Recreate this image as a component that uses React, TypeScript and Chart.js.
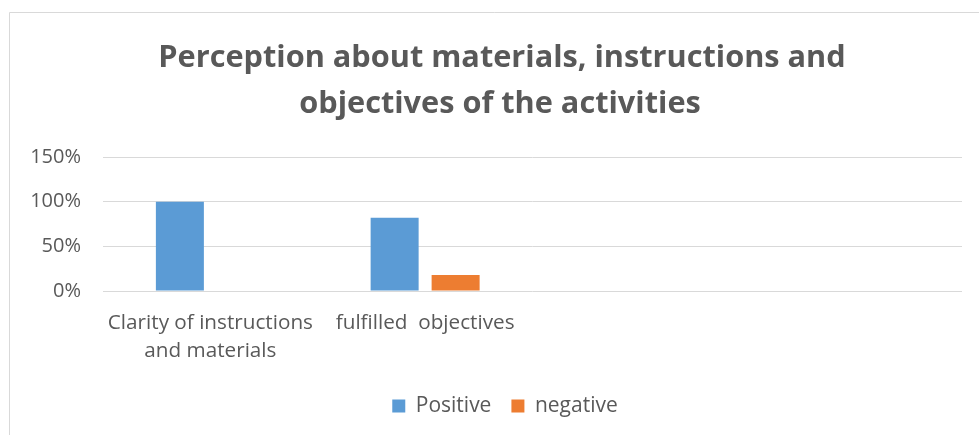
import React, { useEffect, useRef } from "react";
import { Chart, registerables } from "chart.js";

Chart.register(...registerables);

const categories: (string | string[])[] = [
  ["Clarity of instructions", "and materials"],
  "fulfilled  objectives",
  "",
  "",
];
const positiveValues: (number | null)[] = [1.0, 0.82, null, null];
const negativeValues: (number | null)[] = [0, 0.18, null, null];
const seriesNames = ["Positive", "negative"];
const yMin = 0;
const yMax = 1.5;
const yStep = 0.5;
const titleLines = [
  "Perception about materials, instructions and",
  "objectives of the activities",
];

const TEXT = "#595959";
const GRID = "#d9d9d9";
const BLUE = "#5b9bd5";
const ORANGE = "#ed7d31";
const FONT = "'Open Sans', sans-serif";

const framePlugin = {
  id: "frameAndTitle",
  afterLayout(chart: any) {
    // centre the legend under the whole chart frame, as in the original
    if (chart.legend) {
      chart.legend.left += 10;
      chart.legend.right += 10;
    }
  },
  beforeDraw(chart: any) {
    const ctx = chart.ctx as CanvasRenderingContext2D;
    ctx.save();
    ctx.fillStyle = "#ffffff";
    ctx.fillRect(0, 0, chart.width, chart.height);
    ctx.strokeStyle = GRID;
    ctx.lineWidth = 1;
    ctx.beginPath();
    ctx.moveTo(9.5, chart.height + 5);
    ctx.lineTo(9.5, 12.5);
    ctx.lineTo(chart.width + 5, 12.5);
    ctx.stroke();
    ctx.fillStyle = TEXT;
    ctx.font = `bold 30.7px ${FONT}`;
    ctx.textAlign = "center";
    ctx.textBaseline = "alphabetic";
    ctx.fillText(titleLines[0], 502, 67);
    ctx.fillText(titleLines[1], 500, 113);
    ctx.restore();
  },
};

export default function App() {
  const canvasRef = useRef<HTMLCanvasElement | null>(null);

  useEffect(() => {
    if (!canvasRef.current) return;
    const chart = new Chart(canvasRef.current, {
      type: "bar",
      data: {
        labels: categories,
        datasets: [
          {
            label: seriesNames[0],
            data: positiveValues,
            backgroundColor: BLUE,
            borderWidth: 0,
            categoryPercentage: 0.568,
            barPercentage: 0.787,
          },
          {
            label: seriesNames[1],
            data: negativeValues,
            backgroundColor: ORANGE,
            borderWidth: 0,
            categoryPercentage: 0.568,
            barPercentage: 0.787,
          },
        ],
      },
      options: {
        animation: false,
        responsive: false,
        maintainAspectRatio: false,
        devicePixelRatio: 1,
        layout: { padding: { left: 28, right: 17, top: 157, bottom: 8.5 } },
        plugins: {
          title: { display: false },
          tooltip: { enabled: false },
          legend: {
            position: "bottom",
            labels: {
              color: TEXT,
              font: { family: FONT, size: 21 },
              boxWidth: 13,
              boxHeight: 13,
              padding: 20,
            },
          },
        },
        scales: {
          x: {
            grid: { display: false, drawTicks: false },
            border: { display: false },
            ticks: {
              color: TEXT,
              font: { family: FONT, size: 20.7, lineHeight: 1.35 },
              padding: 18,
              autoSkip: false,
              maxRotation: 0,
              minRotation: 0,
            },
            afterFit(scale: any) {
              scale.height = 84.5;
            },
          },
          y: {
            min: yMin,
            max: yMax,
            grid: { color: GRID, lineWidth: 1, drawTicks: false },
            border: { display: false },
            ticks: {
              stepSize: yStep,
              color: TEXT,
              font: { family: FONT, size: 20 },
              padding: 22,
              callback: (v: any) => `${Math.round(Number(v) * 100)}%`,
            },
            afterFit(scale: any) {
              scale.width = 75;
            },
          },
        },
      },
      plugins: [framePlugin],
    });
    return () => chart.destroy();
  }, []);

  return (
    <div style={{ position: "fixed", left: 0, top: 0, width: 979, height: 435, background: "#fff" }}>
      <canvas ref={canvasRef} width={979} height={435} style={{ width: 979, height: 435, display: "block" }} />
    </div>
  );
}
